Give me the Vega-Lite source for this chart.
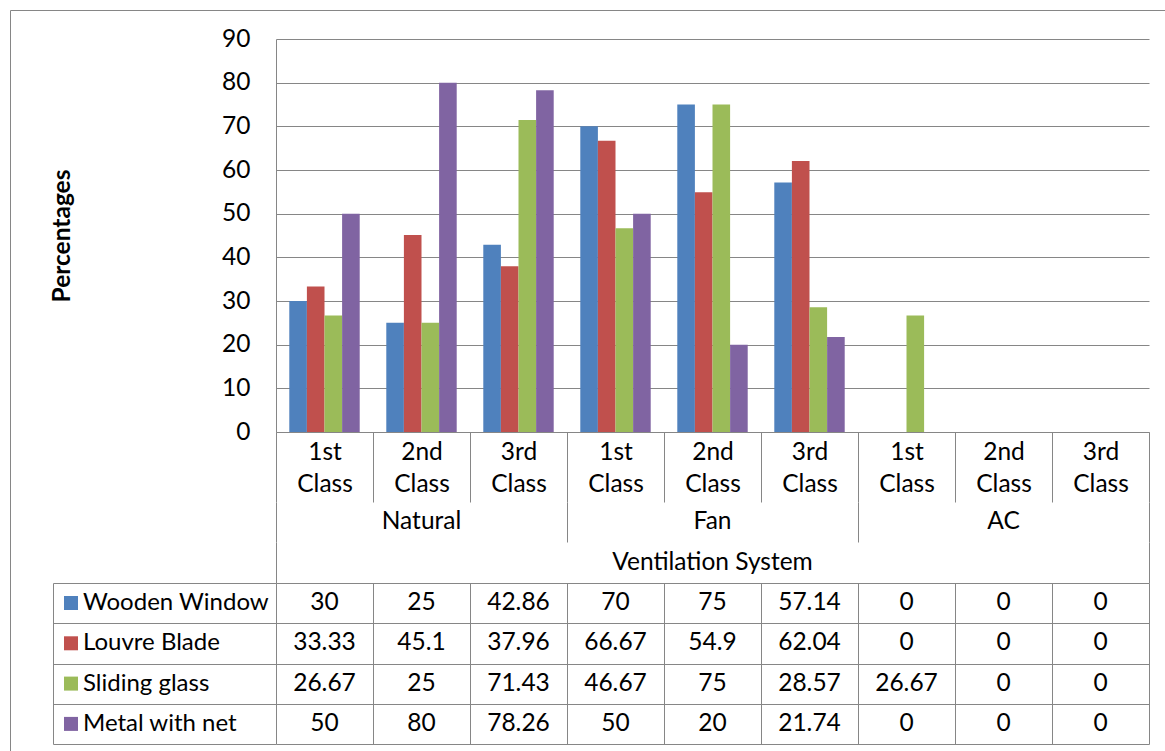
{
  "$schema": "https://vega.github.io/schema/vega-lite/v6.json",
  "width": 1155,
  "height": 741,
  "autosize": {"type": "none"},
  "padding": {"left": 10, "top": 10, "right": 0, "bottom": 0},
  "background": "white",
  "config": {
    "font": "Lato",
    "view": {"stroke": "#868686", "strokeWidth": 1},
    "axis": {
      "labelFont": "Lato",
      "labelColor": "black",
      "titleFont": "Lato",
      "titleColor": "black",
      "domainColor": "#868686",
      "tickColor": "#868686",
      "gridColor": "#868686",
      "gridOpacity": 1,
      "domainWidth": 1,
      "tickWidth": 1,
      "gridWidth": 1
    },
    "text": {"font": "Lato", "fontSize": 24.5, "color": "black"}
  },
  "datasets": {
    "cells": [
      {"column": "Natural|1st Class", "series": "Wooden Window", "value": 30},
      {"column": "Natural|2nd Class", "series": "Wooden Window", "value": 25},
      {"column": "Natural|3rd Class", "series": "Wooden Window", "value": 42.86},
      {"column": "Fan|1st Class", "series": "Wooden Window", "value": 70},
      {"column": "Fan|2nd Class", "series": "Wooden Window", "value": 75},
      {"column": "Fan|3rd Class", "series": "Wooden Window", "value": 57.14},
      {"column": "AC|1st Class", "series": "Wooden Window", "value": 0},
      {"column": "AC|2nd Class", "series": "Wooden Window", "value": 0},
      {"column": "AC|3rd Class", "series": "Wooden Window", "value": 0},
      {"column": "Natural|1st Class", "series": "Louvre Blade", "value": 33.33},
      {"column": "Natural|2nd Class", "series": "Louvre Blade", "value": 45.1},
      {"column": "Natural|3rd Class", "series": "Louvre Blade", "value": 37.96},
      {"column": "Fan|1st Class", "series": "Louvre Blade", "value": 66.67},
      {"column": "Fan|2nd Class", "series": "Louvre Blade", "value": 54.9},
      {"column": "Fan|3rd Class", "series": "Louvre Blade", "value": 62.04},
      {"column": "AC|1st Class", "series": "Louvre Blade", "value": 0},
      {"column": "AC|2nd Class", "series": "Louvre Blade", "value": 0},
      {"column": "AC|3rd Class", "series": "Louvre Blade", "value": 0},
      {"column": "Natural|1st Class", "series": "Sliding glass", "value": 26.67},
      {"column": "Natural|2nd Class", "series": "Sliding glass", "value": 25},
      {"column": "Natural|3rd Class", "series": "Sliding glass", "value": 71.43},
      {"column": "Fan|1st Class", "series": "Sliding glass", "value": 46.67},
      {"column": "Fan|2nd Class", "series": "Sliding glass", "value": 75},
      {"column": "Fan|3rd Class", "series": "Sliding glass", "value": 28.57},
      {"column": "AC|1st Class", "series": "Sliding glass", "value": 26.67},
      {"column": "AC|2nd Class", "series": "Sliding glass", "value": 0},
      {"column": "AC|3rd Class", "series": "Sliding glass", "value": 0},
      {"column": "Natural|1st Class", "series": "Metal with net", "value": 50},
      {"column": "Natural|2nd Class", "series": "Metal with net", "value": 80},
      {"column": "Natural|3rd Class", "series": "Metal with net", "value": 78.26},
      {"column": "Fan|1st Class", "series": "Metal with net", "value": 50},
      {"column": "Fan|2nd Class", "series": "Metal with net", "value": 20},
      {"column": "Fan|3rd Class", "series": "Metal with net", "value": 21.74},
      {"column": "AC|1st Class", "series": "Metal with net", "value": 0},
      {"column": "AC|2nd Class", "series": "Metal with net", "value": 0},
      {"column": "AC|3rd Class", "series": "Metal with net", "value": 0}
    ],
    "systems": [
      {"system": "Natural"},
      {"system": "Fan"},
      {"system": "AC"}
    ],
    "axisName": [
      {"name": "Ventilation System"}
    ]
  },
  "layer": [
    {
      "data": {"name": "cells"},
      "mark": {"type": "bar"},
      "encoding": {
        "x": {
          "field": "column",
          "type": "nominal",
          "sort": ["Natural|1st Class", "Natural|2nd Class", "Natural|3rd Class", "Fan|1st Class", "Fan|2nd Class", "Fan|3rd Class", "AC|1st Class", "AC|2nd Class", "AC|3rd Class"],
          "scale": {"type": "band", "range": [266, 1139], "paddingInner": 0, "paddingOuter": 0},
          "axis": {
            "orient": "bottom",
            "offset": -319,
            "title": null,
            "tickBand": "extent",
            "tickSize": 70,
            "labelExpr": "indexof(datum.label, '|') >= 0 ? split(split(datum.label, '|')[1], ' ') : ''",
            "labelFontSize": 24.5,
            "labelLineHeight": 32,
            "labelBaseline": "top",
            "labelPadding": -62,
            "labelAngle": 0,
            "grid": false
          }
        },
        "xOffset": {
          "field": "series",
          "type": "nominal",
          "sort": ["Wooden Window", "Louvre Blade", "Sliding glass", "Metal with net"],
          "scale": {"paddingInner": 0, "paddingOuter": 0.755}
        },
        "y": {
          "field": "value",
          "type": "quantitative",
          "scale": {"domain": [0, 90], "range": [422, 29], "nice": false},
          "axis": {
            "orient": "left",
            "offset": -266,
            "values": [0, 10, 20, 30, 40, 50, 60, 70, 80, 90],
            "ticks": false,
            "labelPadding": 26,
            "labelFontSize": 24.5,
            "grid": true,
            "domain": true,
            "title": "Percentages",
            "titleFontSize": 24.5,
            "titleFontWeight": "bold",
            "titleX": -214,
            "titleBaseline": "middle"
          }
        },
        "color": {
          "field": "series",
          "type": "nominal",
          "scale": {
            "domain": ["Wooden Window", "Louvre Blade", "Sliding glass", "Metal with net"],
            "range": ["#4F81BD", "#C0504D", "#9BBB59", "#8064A2"]
          },
          "legend": {
            "orient": "none",
            "legendX": 49,
            "legendY": 581,
            "title": null,
            "direction": "vertical",
            "symbolType": "square",
            "symbolSize": 196,
            "symbolStrokeWidth": 0,
            "symbolOpacity": 1,
            "labelFont": "Lato",
            "labelFontSize": 24,
            "labelColor": "black",
            "labelOffset": 0,
            "labelLimit": 300,
            "rowPadding": 16.3,
            "padding": 0
          }
        }
      }
    },
    {
      "data": {"name": "systems"},
      "mark": {"type": "text", "fontSize": 24.5},
      "encoding": {
        "x": {
          "field": "system",
          "type": "nominal",
          "sort": ["Natural", "Fan", "AC"],
          "scale": {"type": "band", "range": [266, 1139], "paddingInner": 0, "paddingOuter": 0},
          "axis": {
            "orient": "bottom",
            "offset": -249,
            "title": null,
            "tickBand": "extent",
            "tickSize": 40,
            "labels": false,
            "domain": false,
            "grid": false
          }
        },
        "y": {
          "datum": "ventilation type",
          "type": "nominal",
          "scale": {"type": "band", "domain": ["ventilation type"], "range": [492, 532], "paddingInner": 0, "paddingOuter": 0},
          "axis": null
        },
        "text": {"field": "system"}
      }
    },
    {
      "data": {"name": "axisName"},
      "mark": {"type": "text", "fontSize": 24.5},
      "encoding": {
        "x": {
          "field": "name",
          "type": "nominal",
          "scale": {"type": "band", "range": [266, 1139], "paddingInner": 0, "paddingOuter": 0},
          "axis": {
            "orient": "bottom",
            "offset": -209,
            "title": null,
            "tickBand": "extent",
            "tickSize": 41,
            "labels": false,
            "domain": false,
            "grid": false
          }
        },
        "y": {
          "datum": "axis name",
          "type": "nominal",
          "scale": {"type": "band", "domain": ["axis name"], "range": [532, 573], "paddingInner": 0, "paddingOuter": 0},
          "axis": null
        },
        "text": {"field": "name"}
      }
    },
    {
      "data": {"name": "cells"},
      "mark": {"type": "text", "fontSize": 24.5},
      "encoding": {
        "x": {
          "field": "column",
          "type": "nominal",
          "sort": ["Natural|1st Class", "Natural|2nd Class", "Natural|3rd Class", "Fan|1st Class", "Fan|2nd Class", "Fan|3rd Class", "AC|1st Class", "AC|2nd Class", "AC|3rd Class"],
          "scale": {"type": "band", "range": [266, 1139], "paddingInner": 0, "paddingOuter": 0},
          "axis": {
            "orient": "top",
            "title": null,
            "grid": true,
            "tickBand": "extent",
            "ticks": false,
            "labels": false,
            "domain": false
          }
        },
        "y": {
          "field": "series",
          "type": "nominal",
          "sort": ["Wooden Window", "Louvre Blade", "Sliding glass", "Metal with net"],
          "scale": {"type": "band", "range": [573, 734], "paddingInner": 0, "paddingOuter": 0},
          "axis": {
            "orient": "left",
            "offset": -43,
            "title": null,
            "tickBand": "extent",
            "tickSize": -223,
            "labels": false,
            "domain": true,
            "grid": true
          }
        },
        "text": {"field": "value", "type": "quantitative"}
      }
    }
  ],
  "resolve": {
    "scale": {"x": "independent", "y": "independent"},
    "axis": {"x": "independent", "y": "independent"}
  }
}
